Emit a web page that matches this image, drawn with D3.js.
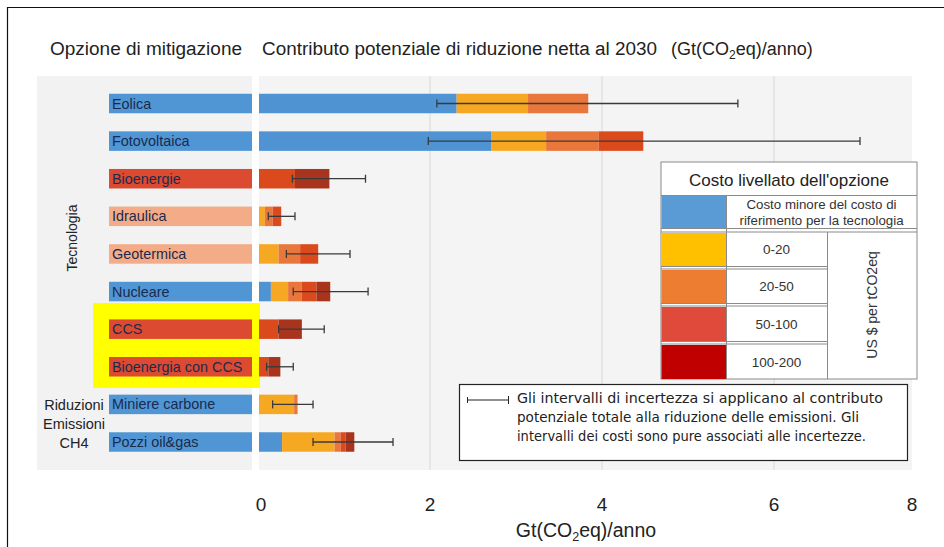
<!DOCTYPE html>
<html><head><meta charset="utf-8">
<script src="https://cdn.jsdelivr.net/npm/d3@7"></script>
<style>body{margin:0;background:#fff} svg{display:block}</style>
</head><body><svg id="c" width="944" height="547"></svg>
<script>
const categories = ["Eolica","Fotovoltaica","Bioenergie","Idraulica","Geotermica","Nucleare","CCS","Bioenergia con CCS","Miniere carbone","Pozzi oil&gas"];
const labelGroup = ["blue","blue","red","salmon","salmon","blue","red","red","blue","blue"];
const belowRef   = [2.31,2.71,0,0,0,0.15,0,0,0,0.28];
const cost0_20   = [0.83,0.64,0,0.08,0.24,0.20,0,0,0.42,0.61];
const cost20_50  = [0.70,0.61,0,0.09,0.25,0.16,0,0,0.04,0.07];
const cost50_100 = [0,0.52,0.43,0.10,0.21,0.17,0.24,0.12,0,0.06];
const cost100_200= [0,0,0.40,0,0,0.16,0.27,0.14,0,0.10];
const errLow  = [2.08,1.98,0.40,0.12,0.33,0.41,0.24,0.10,0.17,0.64];
const errHigh = [5.58,7.00,1.25,0.43,1.07,1.28,0.77,0.41,0.64,1.57];
const xTicks = [0,2,4,6,8];
const seriesKeys = ["belowRef","cost0_20","cost20_50","cost50_100","cost100_200"];
const legendLabels = ["Costo minore del costo di|riferimento per la tecnologia","0-20","20-50","50-100","100-200"];

const barColors = {belowRef:"#4f93d3",cost0_20:"#f7a823",cost20_50:"#e9773b",cost50_100:"#db4a1c",cost100_200:"#a9341e"};
const legendColors = ["#5b9bd5","#ffc000","#ed7d31","#e04a3a","#c00000"];
const labelColors = {blue:"#5096d5",red:"#dc4a31",salmon:"#f4ac88"};

const svg = d3.select("#c");
const FONT = "'Liberation Sans', Arial, sans-serif";

// frame
svg.append("path").attr("d","M7.5,547 V7.5 H944").attr("fill","none").attr("stroke","#111").attr("stroke-width",1.2);

const x = d3.scaleLinear().domain([0,8]).range([258,946]);
const y = d3.scalePoint().domain(categories).range([103.5,442]);
const bh = 19.5;

// backgrounds
svg.append("rect").attr("x",37).attr("y",76).attr("width",215).attr("height",394).attr("fill","#f2f2f2");
svg.append("rect").attr("x",259).attr("y",76).attr("width",653).attr("height",394).attr("fill","#f4f4f4");

// gridlines
svg.append("g").selectAll("line").data(xTicks.filter(d=>d>0&&d<8)).join("line")
  .attr("x1",d=>x(d)).attr("x2",d=>x(d)).attr("y1",76).attr("y2",470)
  .attr("stroke","#dcdcdc").attr("stroke-width",1.2);

// yellow highlight
svg.append("rect").attr("x",93).attr("y",303).attr("width",167).attr("height",85).attr("fill","#ffff00");

// titles
svg.append("text").attr("x",50).attr("y",55).attr("font-family",FONT).attr("font-size",18).attr("fill","#222")
  .attr("textLength",192).attr("lengthAdjust","spacingAndGlyphs").text("Opzione di mitigazione");
svg.append("text").attr("x",262).attr("y",55).attr("font-family",FONT).attr("font-size",18).attr("fill","#222")
  .attr("textLength",395).attr("lengthAdjust","spacingAndGlyphs").text("Contributo potenziale di riduzione netta al 2030");
const t2 = svg.append("text").attr("x",671).attr("y",55).attr("font-family",FONT).attr("font-size",18).attr("fill","#222");
t2.append("tspan").text("(Gt(CO");
t2.append("tspan").attr("font-size",12).attr("dy",4).text("2");
t2.append("tspan").attr("dy",-4).text("eq)/anno)");

// left label bars
const lab = svg.append("g");
lab.selectAll("rect").data(categories).join("rect")
  .attr("x",109).attr("width",143).attr("y",d=>y(d)-bh/2).attr("height",bh)
  .attr("fill",(d,i)=>labelColors[labelGroup[i]]);
lab.selectAll("text").data(categories).join("text")
  .attr("x",112).attr("y",d=>y(d)+5).attr("font-family",FONT).attr("font-size",14.4).attr("fill","#1b2a4c").text(d=>d);

// group labels
svg.append("text").attr("transform","translate(77,238) rotate(-90)").attr("text-anchor","middle")
  .attr("font-family",FONT).attr("font-size",14).attr("fill","#222").text("Tecnologia");
const g2 = svg.append("text").attr("text-anchor","middle").attr("font-family",FONT).attr("font-size",14.5).attr("fill","#222");
["Riduzioni","Emissioni","CH4"].forEach((s,i)=>g2.append("tspan").attr("x",74).attr("y",410+i*19).text(s));

// stacked bars
const rows = categories.map((c,i)=>({cat:c,belowRef:belowRef[i],cost0_20:cost0_20[i],cost20_50:cost20_50[i],cost50_100:cost50_100[i],cost100_200:cost100_200[i]}));
const stacked = d3.stack().keys(seriesKeys)(rows);
svg.append("g").selectAll("g").data(stacked).join("g").attr("fill",d=>barColors[d.key])
  .selectAll("rect").data(d=>d).join("rect")
  .attr("x",d=>x(d[0])+(d[0]===0?1:0)).attr("width",d=>Math.max(0,x(d[1])-x(d[0])-(d[0]===0?1:0)))
  .attr("y",d=>y(d.data.cat)-bh/2).attr("height",bh);

// error bars
const eb = svg.append("g").attr("stroke","#3a3a3a").attr("stroke-width",1.3);
categories.forEach((c,i)=>{
  const yy = y(c);
  eb.append("line").attr("x1",x(errLow[i])).attr("x2",x(errHigh[i])).attr("y1",yy).attr("y2",yy);
  eb.append("line").attr("x1",x(errLow[i])).attr("x2",x(errLow[i])).attr("y1",yy-4).attr("y2",yy+4);
  eb.append("line").attr("x1",x(errHigh[i])).attr("x2",x(errHigh[i])).attr("y1",yy-4).attr("y2",yy+4);
});

// x tick labels
svg.append("g").selectAll("text").data(xTicks).join("text")
  .attr("x",d=>Math.max(261,Math.min(912,x(d)))).attr("y",511).attr("text-anchor","middle")
  .attr("font-family",FONT).attr("font-size",19).attr("fill","#222").text(d=>d);
const xt = svg.append("text").attr("x",586).attr("y",537).attr("text-anchor","middle").attr("font-family",FONT).attr("font-size",19.5).attr("fill","#222");
xt.append("tspan").text("Gt(CO");
xt.append("tspan").attr("font-size",12.5).attr("dy",4).text("2");
xt.append("tspan").attr("dy",-4).text("eq)/anno");

// legend
const L = svg.append("g");
const lx0=661, lx1=726, lx2=827, lx3=917;
L.append("rect").attr("x",lx0).attr("y",162).attr("width",lx3-lx0).attr("height",217).attr("fill","#fff").attr("stroke","#8a8a8a").attr("stroke-width",1);
L.append("text").attr("x",(lx0+lx3)/2).attr("y",186).attr("text-anchor","middle").attr("font-family",FONT).attr("font-size",17).attr("fill","#222").text("Costo livellato dell'opzione");
L.append("line").attr("x1",lx0).attr("x2",lx3).attr("y1",195.5).attr("y2",195.5).attr("stroke","#8a8a8a");
const rowsY = [[196,228],[233,266],[270,303],[307,341],[345,379]];
rowsY.forEach((r,i)=>{
  L.append("rect").attr("x",lx0+0.5).attr("y",r[0]).attr("width",lx1-lx0-0.5).attr("height",r[1]-r[0]).attr("fill",legendColors[i]);
  const lines = legendLabels[i].split("|");
  const cx = i===0 ? (lx1+lx3)/2 : (lx1+lx2)/2;
  const cy = (r[0]+r[1])/2;
  lines.forEach((s,k)=>L.append("text").attr("x",cx).attr("y",cy+4.5+(k-(lines.length-1)/2)*16).attr("text-anchor","middle")
    .attr("font-family",FONT).attr("font-size",i===0?13.3:13.5).attr("fill","#333").text(s));
  if(i<4){
    const right = i===0 ? lx3 : lx2;
    L.append("line").attr("x1",lx0).attr("x2",right).attr("y1",r[1]+0.5).attr("y2",r[1]+0.5).attr("stroke","#8a8a8a");
    L.append("line").attr("x1",lx0).attr("x2",right).attr("y1",rowsY[i+1][0]-1).attr("y2",rowsY[i+1][0]-1).attr("stroke","#8a8a8a");
  }
});
L.append("line").attr("x1",lx1+0.5).attr("x2",lx1+0.5).attr("y1",196).attr("y2",379).attr("stroke","#8a8a8a");
L.append("line").attr("x1",lx2+0.5).attr("x2",lx2+0.5).attr("y1",232).attr("y2",379).attr("stroke","#8a8a8a");
L.append("text").attr("transform",`translate(${(lx2+lx3)/2+5},305) rotate(-90)`).attr("text-anchor","middle")
  .attr("font-family",FONT).attr("font-size",14).attr("fill","#333").text("US $ per tCO2eq");

// note box
const N = svg.append("g");
N.append("rect").attr("x",459.5).attr("y",384.5).attr("width",448).attr("height",76).attr("fill","#fff").attr("stroke","#222").attr("stroke-width",1.2);
N.append("line").attr("x1",467).attr("x2",508).attr("y1",400).attr("y2",400).attr("stroke","#222");
N.append("line").attr("x1",467.5).attr("x2",467.5).attr("y1",397).attr("y2",403).attr("stroke","#222");
N.append("line").attr("x1",508.5).attr("x2",508.5).attr("y1",396).attr("y2",404).attr("stroke","#222");
const noteLines = ["Gli intervalli di incertezza si applicano al contributo","potenziale totale alla riduzione delle emissioni. Gli","intervalli dei costi sono pure associati alle incertezze."];
const noteWidths = [366,342,349];
N.selectAll("text.n").data(noteLines).join("text").attr("class","n").attr("x",517).attr("y",(d,i)=>403+i*19)
  .attr("font-family","'DejaVu Sans', sans-serif").attr("font-size",13.5).attr("fill","#222")
  .attr("textLength",(d,i)=>noteWidths[i]).attr("lengthAdjust","spacingAndGlyphs").text(d=>d);
</script></body></html>
